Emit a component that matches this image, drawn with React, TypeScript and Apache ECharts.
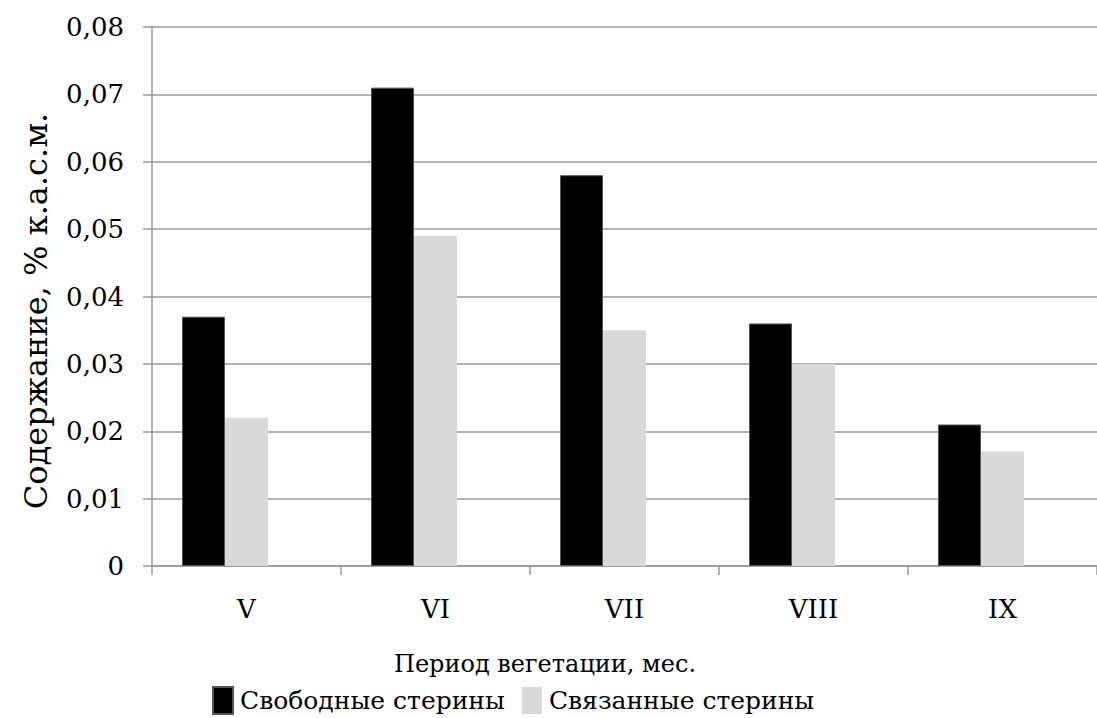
import React, { useEffect, useRef } from "react";
import * as echarts from "echarts";

const categories = ["V", "VI", "VII", "VIII", "IX"];
const freeSterols = [0.037, 0.071, 0.058, 0.036, 0.021];
const boundSterols = [0.022, 0.049, 0.035, 0.03, 0.017];
const emptySeries = [null, null, null, null, null];
const seriesNames = ["Свободные стерины", "Связанные стерины"];
const yTitle = "Содержание, % к.а.с.м.";
const xTitle = "Период вегетации, мес.";

const FONT = "DejaVu Serif";

export default function App() {
  const ref = useRef<HTMLDivElement>(null);
  useEffect(() => {
    if (!ref.current) return;
    const chart = echarts.init(ref.current, undefined, { renderer: "svg" });
    chart.setOption({
      animation: false,
      backgroundColor: "#ffffff",
      textStyle: { fontFamily: FONT, color: "#000" },
      grid: { left: 152, top: 27, right: -10, bottom: 152, containLabel: false },
      legend: {
        data: seriesNames,
        left: 212,
        top: 686,
        padding: 0,
        itemWidth: 20,
        itemHeight: 27,
        itemGap: 17,
        icon: "rect",
        textStyle: { fontFamily: FONT, fontSize: 25, color: "#000", padding: [0, 0, 0, 2] },
      },
      xAxis: {
        type: "category",
        data: categories,
        axisLine: { show: true, lineStyle: { color: "#999", width: 1.5 } },
        axisTick: { show: true, length: 9, lineStyle: { color: "#999", width: 1.5 } },
        axisLabel: { fontFamily: FONT, fontSize: 26, color: "#000", margin: 30 },
        splitLine: { show: false },
      },
      yAxis: {
        type: "value",
        min: 0,
        max: 0.08,
        interval: 0.01,
        axisLine: { show: true, lineStyle: { color: "#999", width: 1.5 } },
        axisTick: { show: true, length: 9, lineStyle: { color: "#999", width: 1.5 } },
        axisLabel: {
          fontFamily: FONT,
          fontSize: 26,
          color: "#000",
          margin: 28,
          formatter: (v: number) => (v === 0 ? "0" : v.toFixed(2).replace(".", ",")),
        },
        splitLine: { show: true, lineStyle: { color: "#999", width: 1.5 } },
      },
      graphic: [
        {
          type: "text",
          x: 545,
          y: 664,
          style: {
            text: xTitle,
            fontFamily: FONT,
            fontSize: 24,
            fill: "#000",
            align: "center",
            verticalAlign: "middle",
          },
        },
        {
          type: "text",
          x: 36,
          y: 311,
          rotation: Math.PI / 2,
          style: {
            text: yTitle,
            fontFamily: FONT,
            fontSize: 32,
            fill: "#000",
            align: "center",
            verticalAlign: "middle",
          },
        },
      ],
      series: [
        {
          name: seriesNames[0],
          type: "bar",
          data: freeSterols,
          barWidth: 43,
          barGap: "0%",
          itemStyle: { color: "#000000", borderColor: "#555", borderWidth: 1 },
        },
        {
          name: seriesNames[1],
          type: "bar",
          data: boundSterols,
          barWidth: 43,
          barGap: "0%",
          itemStyle: { color: "#d9d9d9" },
        },
        {
          name: "",
          type: "bar",
          data: emptySeries,
          barWidth: 43,
          barGap: "0%",
          itemStyle: { color: "transparent" },
        },
      ],
    });
    return () => chart.dispose();
  }, []);
  return (
    <div
      ref={ref}
      style={{ position: "absolute", left: 0, top: 0, width: 1097, height: 718 }}
    />
  );
}
